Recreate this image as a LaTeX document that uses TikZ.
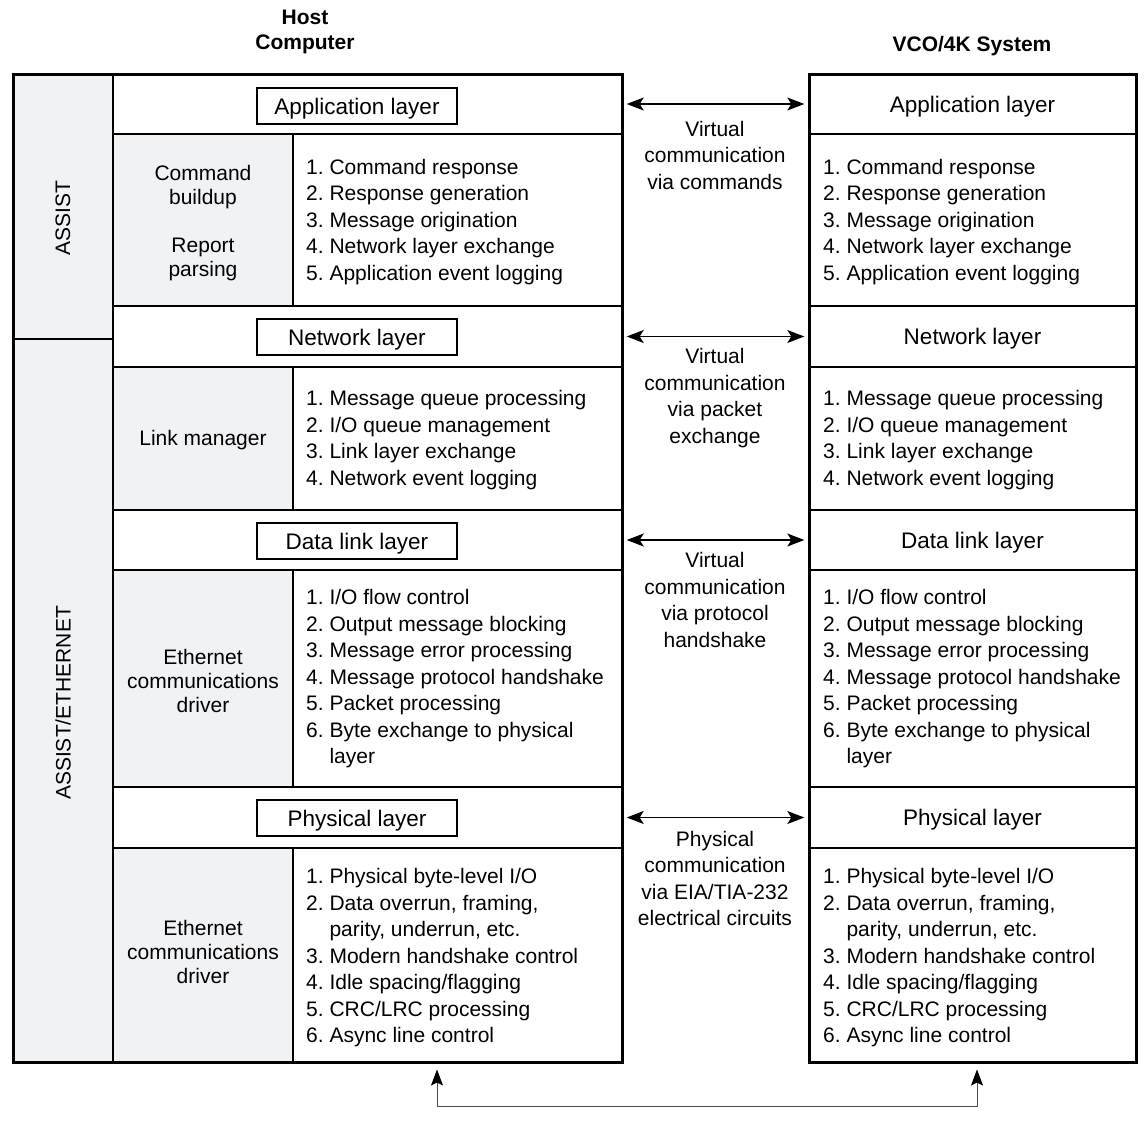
\documentclass[tikz,border=0pt]{standalone}
\usepackage{fontspec}
\setmainfont{Liberation Sans}
\usetikzlibrary{arrows.meta,positioning,calc}
\definecolor{panelgray}{HTML}{F1F2F4}
\frenchspacing

% list texts shared by both stacks
\newcommand{\cmdlist}{1. Command response\\2. Response generation\\3. Message origination\\4. Network layer exchange\\5. Application event logging}
\newcommand{\netlist}{1. Message queue processing\\2. I/O queue management\\3. Link layer exchange\\4. Network event logging}
\newcommand{\linklist}{1. I/O flow control\\2. Output message blocking\\3. Message error processing\\4. Message protocol handshake\\5. Packet processing\\6. Byte exchange to physical\\\hphantom{6. }layer}
\newcommand{\phylist}{1. Physical byte-level I/O\\2. Data overrun, framing,\\\hphantom{2. }parity, underrun, etc.\\3. Modern handshake control\\4. Idle spacing/flagging\\5. CRC/LRC processing\\6. Async line control}

\begin{document}
\begin{tikzpicture}[
		x=1pt, y=-1pt,
		font=\fontsize{21}{26.5}\selectfont,
		frame/.style={draw, line width=3pt, inner sep=0pt},
		cell/.style={draw, line width=1.4pt, inner sep=0pt},
		graycell/.style={cell, fill=panelgray},
		tag/.style={draw, line width=1.2pt, minimum width=200pt, minimum height=36pt, inner sep=0pt, text depth=0pt, font=\fontsize{22.5}{26}\selectfont},
		title/.style={text depth=0pt, font=\fontsize{22.5}{26}\selectfont},
		listtext/.style={align=left, anchor=west, inner sep=0pt},
		sidetext/.style={align=center, inner sep=0pt, font=\fontsize{21}{24}\selectfont},
		head/.style={align=center, font=\fontsize{21}{25}\selectfont\bfseries},
		arrow/.style={{Stealth[length=17pt,width=13pt,inset=4pt]}-{Stealth[length=17pt,width=13pt,inset=4pt]}, line width=1.3pt, shorten <=4pt, shorten >=4pt},
		busarrow/.style={{Stealth[length=16pt,width=12pt,inset=3pt,black]}-{Stealth[length=16pt,width=12pt,inset=3pt,black]}, line width=1pt, draw=black!70}
		]
		\useasboundingbox (0,0) rectangle (1147,1124);
		
		% Headers
		\node[head] (hosthead) at (305,32) {Host\\Computer};
		\node[head] (vcohead) at (972,46) {VCO/4K System};
		
		% Host stack
		\node[graycell, minimum width=100pt, minimum height=265pt] (side1) at (63,206.5) {};
		\node[graycell, minimum width=100pt, minimum height=723pt] (side2) at (63,700.5) {};
		\node[rotate=90] (assist) at (63,218) {ASSIST};
		\node[rotate=90] (assisteth) at (63,703) {ASSIST/ETHERNET};
		
		\node[cell, minimum width=509pt, minimum height=60pt] (happ) at (367.5,104) {};
		\node[graycell, minimum width=180pt, minimum height=172pt] (hcmd) at (203,220) {};
		\node[cell, minimum width=329pt, minimum height=172pt] (hcmdbox) at (457.5,220) {};
		\node[cell, minimum width=509pt, minimum height=61pt] (hnet) at (367.5,336.5) {};
		\node[graycell, minimum width=180pt, minimum height=143pt] (hlink) at (203,438.5) {};
		\node[cell, minimum width=329pt, minimum height=143pt] (hlinkbox) at (457.5,438.5) {};
		\node[cell, minimum width=509pt, minimum height=60pt] (hdata) at (367.5,540) {};
		\node[graycell, minimum width=180pt, minimum height=217pt] (heth) at (203,678.5) {};
		\node[cell, minimum width=329pt, minimum height=217pt] (hethbox) at (457.5,678.5) {};
		\node[cell, minimum width=509pt, minimum height=61pt] (hphy) at (367.5,817.5) {};
		\node[graycell, minimum width=180pt, minimum height=214pt] (hdrv) at (203,955) {};
		\node[cell, minimum width=329pt, minimum height=214pt] (hdrvbox) at (457.5,955) {};
		\node[frame, minimum width=609pt, minimum height=988pt] (host) at (317.5,568) {};
		
		\node[tag] (happtag) at (357,106) {Application layer};
		\node[tag] (hnettag) at (357,337) {Network layer};
		\node[tag] (hdatatag) at (357,541) {Data link layer};
		\node[tag] (hphytag) at (357,818) {Physical layer};
		
		\node[sidetext] (cmdbuild) at (203,187) {Command\\buildup};
		\node[sidetext] (report) at (203,259) {Report\\parsing};
		\node[sidetext] (linkmgr) at (203,440) {Link manager};
		\node[sidetext] (ethdrv1) at (203,681) {Ethernet\\communications\\driver};
		\node[sidetext] (ethdrv2) at (203,952) {Ethernet\\communications\\driver};
		
		\node[listtext] (hcmdlist) at (306,222) {\cmdlist};
		\node[listtext] (hnetlist) at (306,440) {\netlist};
		\node[listtext] (hlinklist) at (306,679) {\linklist};
		\node[listtext] (hphylist) at (306,958) {\phylist};
		
		% VCO/4K stack
		\node[cell, minimum width=327pt, minimum height=60pt, title] (vapp) at (972.5,104) {Application layer};
		\node[cell, minimum width=327pt, minimum height=172pt] (vcmdbox) at (972.5,220) {};
		\node[cell, minimum width=327pt, minimum height=61pt, title] (vnet) at (972.5,336.5) {Network layer};
		\node[cell, minimum width=327pt, minimum height=143pt] (vlinkbox) at (972.5,438.5) {};
		\node[cell, minimum width=327pt, minimum height=60pt, title] (vdata) at (972.5,540) {Data link layer};
		\node[cell, minimum width=327pt, minimum height=217pt] (vethbox) at (972.5,678.5) {};
		\node[cell, minimum width=327pt, minimum height=61pt, title] (vphy) at (972.5,817.5) {Physical layer};
		\node[cell, minimum width=327pt, minimum height=214pt] (vdrvbox) at (972.5,955) {};
		\node[frame, minimum width=327pt, minimum height=988pt] (vco) at (972.5,568) {};
		
		\node[listtext] (vcmdlist) at (823,222) {\cmdlist};
		\node[listtext] (vnetlist) at (823,440) {\netlist};
		\node[listtext] (vlinklist) at (823,679) {\linklist};
		\node[listtext] (vphylist) at (823,958) {\phylist};
		
		% Peer communication
		\node[align=center] (viacmd) at (715,155) {Virtual\\communication\\via commands};
		\node[align=center] (viapkt) at (715,398) {Virtual\\communication\\via packet\\exchange};
		\node[align=center] (viahs) at (715,600) {Virtual\\communication\\via protocol\\handshake};
		\node[align=center] (viaeia) at (715,878.5) {Physical\\communication\\via EIA/TIA-232\\electrical circuits};
		
		% Arrows
		\draw[arrow] (happ.east) -- (vapp.west);
		\draw[arrow] (hnet.east) -- (vnet.west);
		\draw[arrow] (hdata.east) -- (vdata.west);
		\draw[arrow] (hphy.east) -- (vphy.west);
		\draw[busarrow] ([xshift=119.5pt,yshift=-6pt]host.south) -- ++(0,37) -| ([xshift=4.5pt,yshift=-6pt]vco.south);
		
	\end{tikzpicture}
\end{document}
